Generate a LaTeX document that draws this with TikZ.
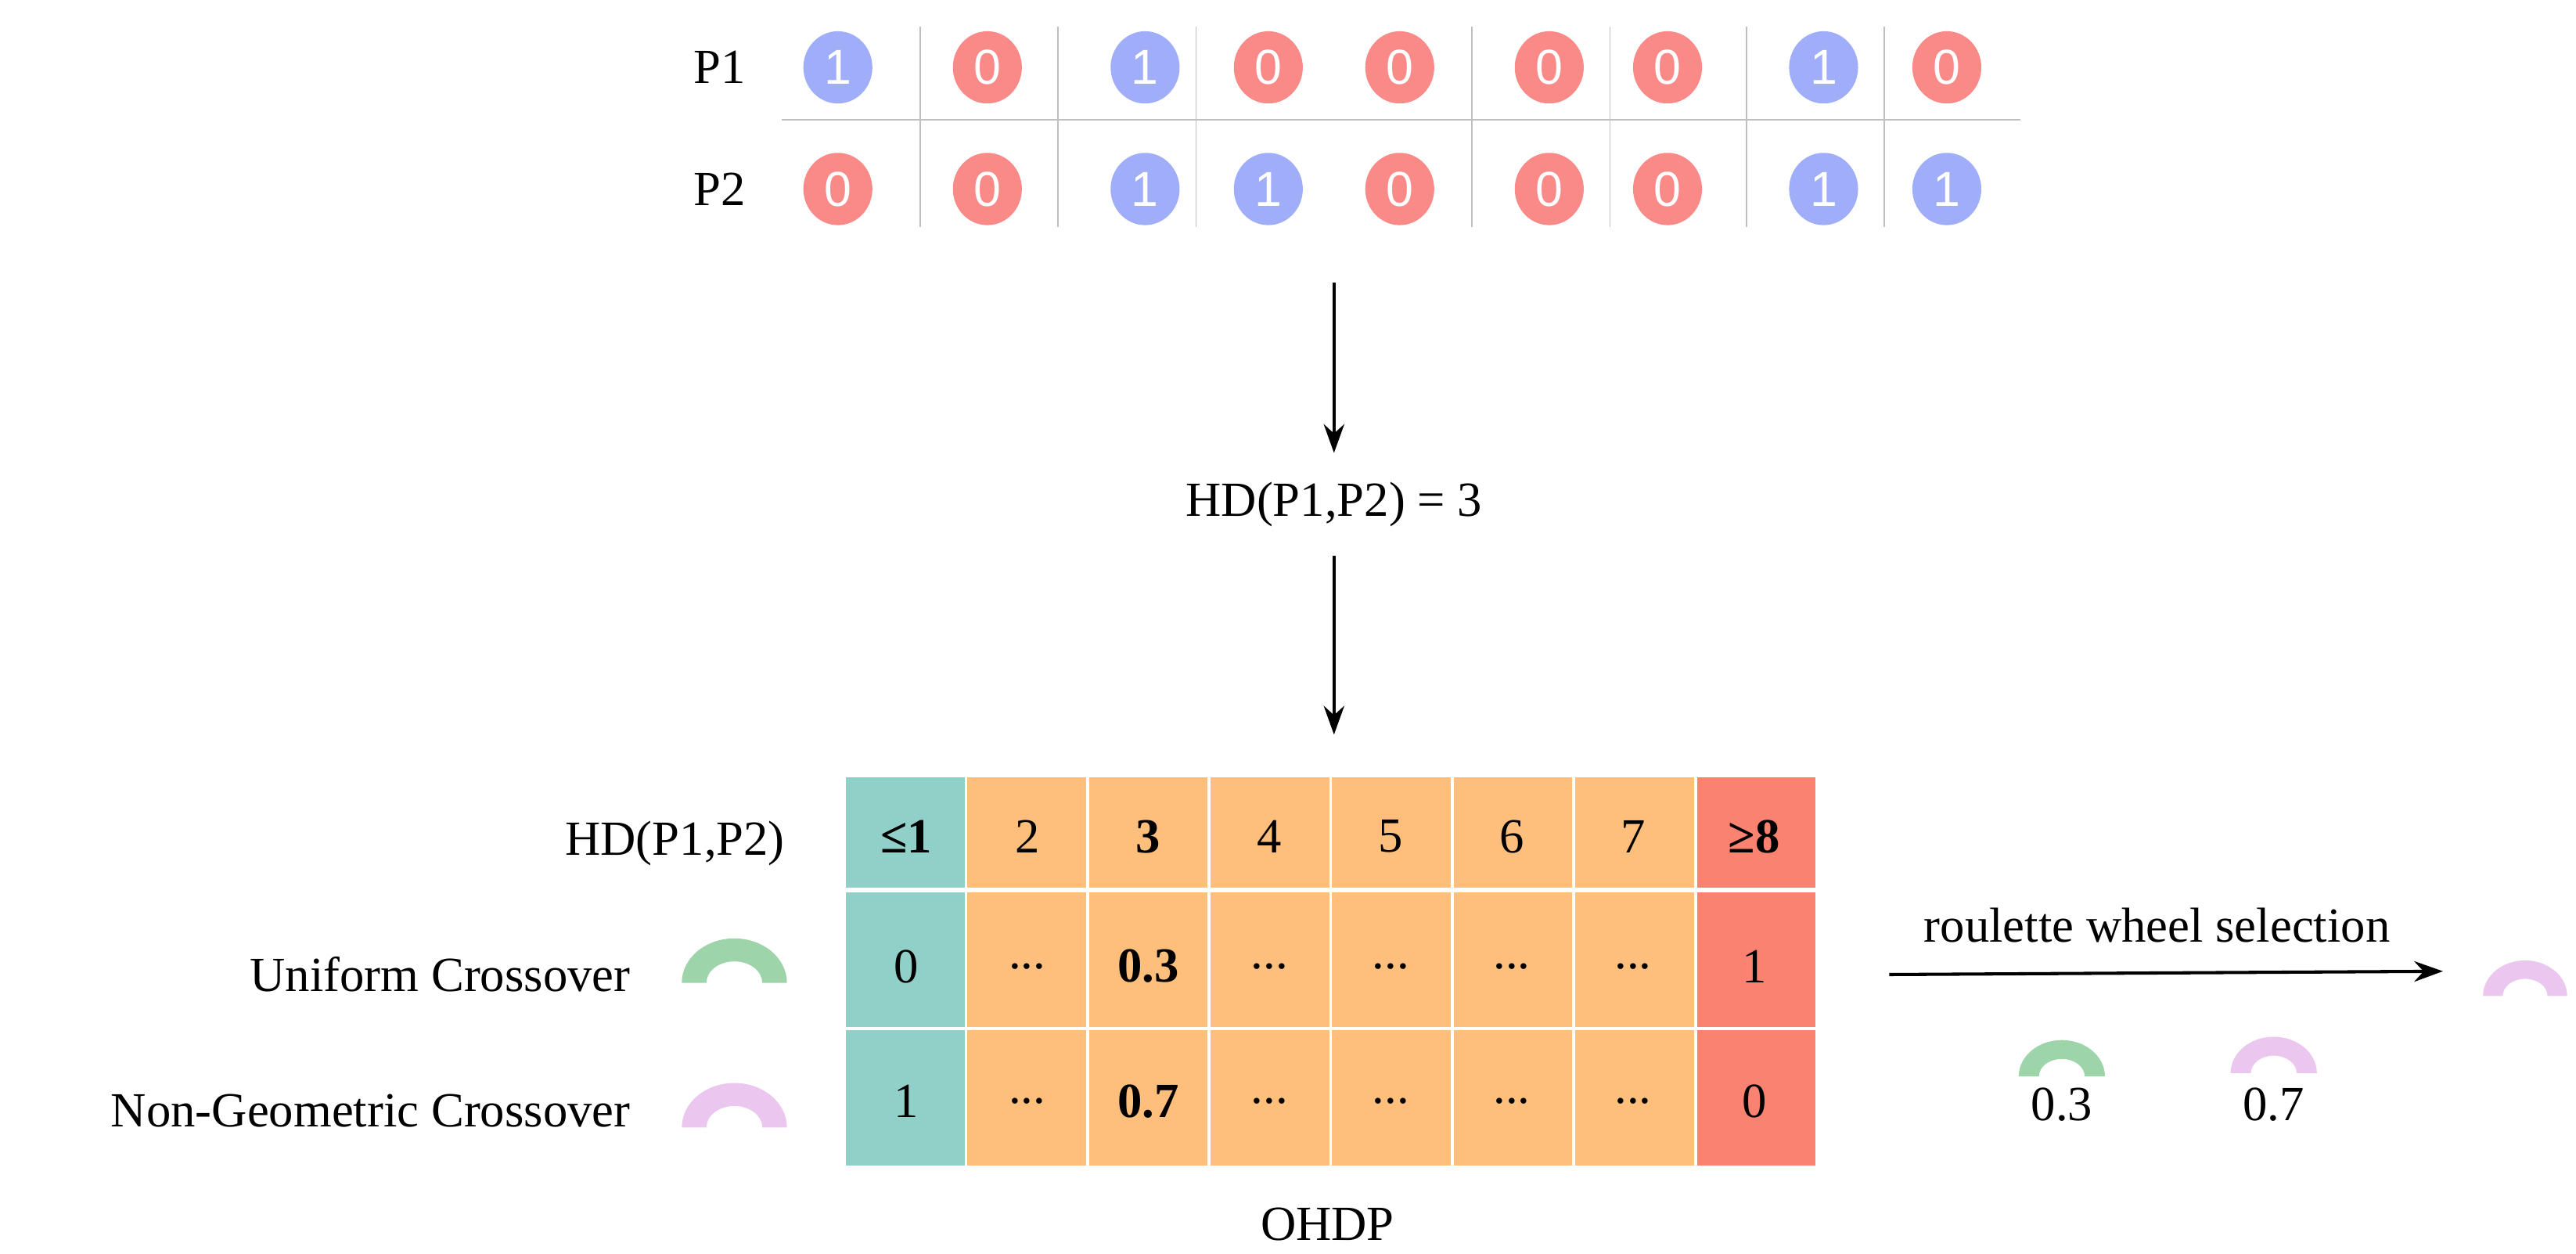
\documentclass[tikz,border=0pt]{standalone}
\usepackage{fontspec}
\setmainfont{Liberation Serif}
\newfontfamily\digfont{Liberation Sans}
\usetikzlibrary{arrows.meta,shapes.geometric}
\definecolor{cblue}{HTML}{A0AEFA}
\definecolor{cred}{HTML}{F98A88}
\definecolor{cteal}{HTML}{91D0C9}
\definecolor{corange}{HTML}{FEBE7C}
\definecolor{ctred}{HTML}{F98270}
\definecolor{cgreen}{HTML}{9DD4A9}
\definecolor{cpink}{HTML}{EBC6EF}
\newcommand\mydots{...}
\newcommand\ringshape[4]{% x, y(base), color, scale
  \fill[#3] (#1,#2) ++(-32*#4,0) arc[start angle=180,end angle=360,x radius=32*#4,y radius=27*#4]
   -- ++(-15*#4,0) arc[start angle=360,end angle=180,x radius=17*#4,y radius=13*#4] -- cycle;}
\begin{document}
\begin{tikzpicture}[x=0.02cm,y=-0.02cm,
  txt/.style={font=\fontsize{17}{20}\selectfont, inner sep=0pt},
  bit/.style={ellipse, minimum width=0.84cm, minimum height=0.88cm, inner sep=0pt, text=white, font=\digfont\fontsize{17}{20}\selectfont},
  one/.style={bit, fill=cblue},
  zero/.style={bit, fill=cred},
  arr/.style={-{Stealth[length=0.35cm,width=0.25cm]}, line width=1.1pt},
  grid/.style={draw=black!25, line width=0.5pt},
  cell/.style={draw=white, line width=1pt}]
\useasboundingbox (0,0) rectangle (1568,763);
% top grid
\foreach \x in {560,644,728,896,980,1063,1147} \draw[grid] (\x,16) -- (\x,138);
\draw[grid] (476,73) -- (1230,73);
\node[txt] (p1) at (438,41) {P1};
\node[txt] (p2) at (438,115) {P2};
\foreach \x/\s/\d [count=\i] in {510/one/1,601/zero/0,697/one/1,772/zero/0,852/zero/0,943/zero/0,1015/zero/0,1110/one/1,1185/zero/0}
  \node[\s] (a\i) at (\x,41) {\d};
\foreach \x/\s/\d [count=\i] in {510/zero/0,601/zero/0,697/one/1,772/one/1,852/zero/0,943/zero/0,1015/zero/0,1110/one/1,1185/one/1}
  \node[\s] (b\i) at (\x,115) {\d};
% arrows
\coordinate (s1) at (812,172);
\node[txt] (hd) at (812,307) {HD(P1,P2) = 3};
\coordinate (e2) at (812,447);
\draw[arr] (s1) -- ([yshift=0.35cm]hd.north);
\draw[arr] ([yshift=-0.35cm]hd.south) -- (e2);
% table
\foreach \ya/\yb in {473/540,543/625,627/709}{
  \fill[cteal] (515,\ya) rectangle (588,\yb);
  \fill[corange] (588,\ya) rectangle (1032,\yb);
  \fill[ctred] (1032,\ya) rectangle (1105,\yb);
  \foreach \x in {588,662,736,810,884,958,1032} \draw[cell] (\x,\ya) -- (\x,\yb);
}
\foreach \t [count=\i] in {\textbf{≤1},2,\textbf{3},4,5,6,7,\textbf{≥8}}
  \node[txt] (h\i) at ({551.5+73.75*(\i-1)},509) {\t};
\foreach \t [count=\i] in {0,\mydots,\textbf{0.3},\mydots,\mydots,\mydots,\mydots,1}
  \node[txt] (u\i) at ({551.5+73.75*(\i-1)},588) {\t};
\foreach \t [count=\i] in {1,\mydots,\textbf{0.7},\mydots,\mydots,\mydots,\mydots,0}
  \node[txt] (n\i) at ({551.5+73.75*(\i-1)},670) {\t};
\node[txt, anchor=east] (lhd) at (478,513) {HD(P1,P2)};
\node[txt, anchor=east] (luc) at (384,593) {Uniform Crossover};
\node[txt, anchor=east] (lng) at (384,676) {Non-Geometric Crossover};
\node[txt] (ohdp) at (808,745) {OHDP};
% arcs
\ringshape{447}{598}{cgreen}{1}
\ringshape{447}{686}{cpink}{1}
\ringshape{1537}{606}{cpink}{0.8}
\ringshape{1255}{655}{cgreen}{0.82}
\ringshape{1384}{653}{cpink}{0.82}
\node[txt] (rws) at (1313,563) {roulette wheel selection};
\coordinate (ra) at (1150,593);
\coordinate (rb) at (1487,591);
\draw[arr] (ra) -- (rb);
\node[txt] (v3) at (1255,672) {0.3};
\node[txt] (v7) at (1384,672) {0.7};
\end{tikzpicture}
\end{document}
